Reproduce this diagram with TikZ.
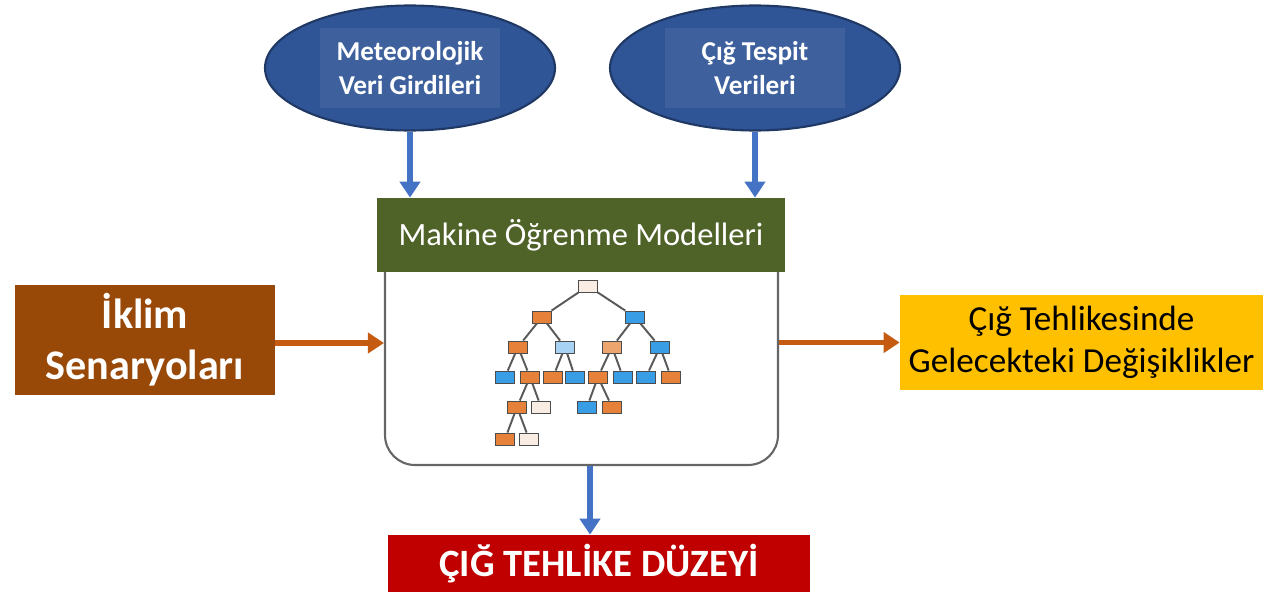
\documentclass[tikz,border=0pt]{standalone}
\usepackage{fontspec}
\setmainfont{Carlito}
\usetikzlibrary{positioning}
\usetikzlibrary{shapes.geometric}
\usetikzlibrary{arrows.meta}

\definecolor{ellblue}{HTML}{2F5597}
\definecolor{ellline}{HTML}{1F3864}
\definecolor{headgreen}{HTML}{4F6228}
\definecolor{climbrown}{HTML}{984807}
\definecolor{arrbrown}{HTML}{C55A11}
\definecolor{arrblue}{HTML}{4472C4}
\definecolor{futyellow}{HTML}{FFC000}
\definecolor{riskred}{HTML}{C00000}
\definecolor{tor}{HTML}{E58139}
\definecolor{tmo}{HTML}{EDA56F}
\definecolor{tbl}{HTML}{399DE5}
\definecolor{tlb}{HTML}{A7D2F3}
\definecolor{tw}{HTML}{F9EDE3}

\begin{document}
\begin{tikzpicture}[
    src/.style = {ellipse, draw=ellline, line width=1.2pt, fill=ellblue,
      minimum width=5.8cm, minimum height=2.5cm},
    srclbl/.style = {fill=ellblue!93!white, text=white, align=center,
      font=\bfseries\fontsize{15.5}{19}\selectfont, minimum width=3.6cm, minimum height=1.6cm},
    box/.style = {align=center, inner sep=0pt},
    bluearr/.style = {draw=arrblue, line width=3pt, -{Triangle[width=0.4cm,length=0.32cm]}},
    brownarr/.style = {draw=arrbrown, line width=3pt, -{Triangle[width=0.4cm,length=0.32cm]}},
    leaf/.style = {draw=black!70, line width=0.5pt, minimum width=0.38cm, minimum height=0.24cm, inner sep=0pt},
    branch/.style = {draw=black!65, line width=1.1pt}
  ]
  \useasboundingbox (0,0) rectangle (25.26,-11.92);

  % model box and its header
  \node (model) [draw=black!60, line width=1.2pt, rounded corners=0.6cm,
    minimum width=7.86cm, minimum height=4.5cm] at (11.63,-7.05) {};
  \node (head) [box, fill=headgreen, text=white, minimum width=8.16cm, minimum height=1.48cm,
    font=\fontsize{18.5}{22}\selectfont] at (11.62,-4.7) {Makine Öğrenme Modelleri};

  % data sources
  \node (met) [src] at (8.2,-1.36) {};
  \node (metlbl) [srclbl] at (met) {Meteorolojik\\Veri Girdileri};
  \node (obs) [src] at (15.1,-1.36) {};
  \node (obslbl) [srclbl] at (obs) {Çığ Tespit\\Verileri};

  % side boxes
  \node (climate) [box, fill=climbrown, text=white, minimum width=5.2cm, minimum height=2.2cm,
    font=\bfseries\fontsize{24}{29}\selectfont] at (2.9,-6.8) {İklim\\Senaryoları};
  \node (future) [box, fill=futyellow, text=black, minimum width=7.26cm, minimum height=1.9cm,
    font=\fontsize{20}{24}\selectfont] at (21.63,-6.85) {Çığ Tehlikesinde\\Gelecekteki Değişiklikler};
  \node (risk) [box, fill=riskred, text=white, minimum width=8.44cm, minimum height=1.14cm,
    font=\bfseries\fontsize{22}{26}\selectfont] at (11.98,-11.27) {ÇIĞ TEHLİKE DÜZEYİ};

  % connectors
  \draw [bluearr] (met) -- (met |- head.north);
  \draw [bluearr] (obs) -- (obs |- head.north);
  \draw [brownarr] (climate.east |- 0,-6.86) -- (model.west |- 0,-6.86);
  \draw [brownarr] (model.east |- future.west) -- (future.west);
  \draw [bluearr] ([xshift=0.17cm]model.south) -- ([xshift=0.17cm]model.south |- risk.north);

  % decision tree
  \node (r) [leaf, fill=tw] at (11.76,-5.72) {};
  \node (a) [leaf, fill=tor] at (10.84,-6.34) {} edge [branch] (r);
  \node (b) [leaf, fill=tbl] at (12.70,-6.34) {} edge [branch] (r);
  \node (c) [leaf, fill=tor] at (10.36,-6.94) {} edge [branch] (a);
  \node (d) [leaf, fill=tlb] at (11.30,-6.94) {} edge [branch] (a);
  \node (e) [leaf, fill=tmo] at (12.24,-6.94) {} edge [branch] (b);
  \node (f) [leaf, fill=tbl] at (13.20,-6.94) {} edge [branch] (b);
  \node (g) [leaf, fill=tbl] at (10.10,-7.54) {} edge [branch] (c);
  \node (h) [leaf, fill=tor] at (10.60,-7.54) {} edge [branch] (c);
  \node (i) [leaf, fill=tor] at (11.06,-7.54) {} edge [branch] (d);
  \node (j) [leaf, fill=tbl] at (11.50,-7.54) {} edge [branch] (d);
  \node (k) [leaf, fill=tor] at (11.96,-7.54) {} edge [branch] (e);
  \node (l) [leaf, fill=tbl] at (12.46,-7.54) {} edge [branch] (e);
  \node (m) [leaf, fill=tbl] at (12.92,-7.54) {} edge [branch] (f);
  \node (n) [leaf, fill=tor] at (13.42,-7.54) {} edge [branch] (f);
  \node (o) [leaf, fill=tor] at (10.34,-8.14) {} edge [branch] (h);
  \node (p) [leaf, fill=tw] at (10.82,-8.14) {} edge [branch] (h);
  \node (q) [leaf, fill=tbl] at (11.74,-8.14) {} edge [branch] (k);
  \node (s) [leaf, fill=tor] at (12.24,-8.14) {} edge [branch] (k);
  \node (t) [leaf, fill=tor] at (10.10,-8.78) {} edge [branch] (o);
  \node (u) [leaf, fill=tw] at (10.58,-8.78) {} edge [branch] (o);
\end{tikzpicture}
\end{document}
